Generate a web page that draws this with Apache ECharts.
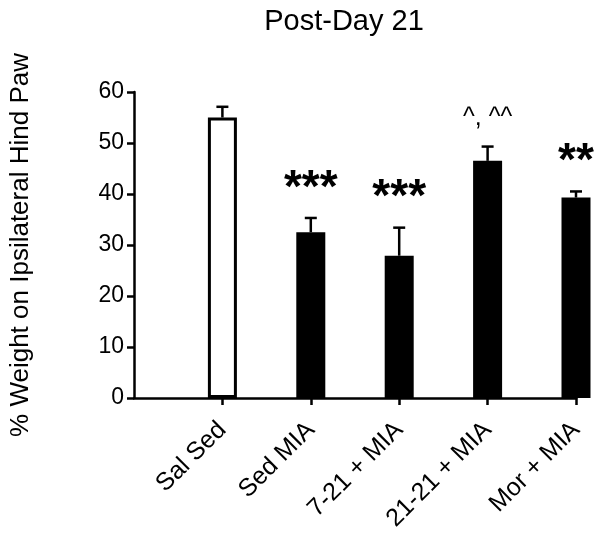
<!DOCTYPE html>
<html>
<head>
<meta charset="utf-8">
<script src="https://cdn.jsdelivr.net/npm/echarts@6/dist/echarts.min.js"></script>
<style>html,body{margin:0;padding:0;background:#fff}#c{width:604px;height:541px}</style>
</head>
<body>
<div id="c"></div>
<script>
// ---- data ----
const groups = ['Sal Sed', 'Sed MIA', '7-21 + MIA', '21-21 + MIA', 'Mor + MIA'];
const means = [55.0, 32.5, 27.9, 46.5, 39.3];
const sems = [2.1, 2.8, 5.5, 2.8, 1.2];
const marks = ['', '***', '***', '^, ^^', '**'];
const yTicks = [0, 10, 20, 30, 40, 50, 60];

const FONT = '"Liberation Sans", Arial, sans-serif';
const categories = [''].concat(groups);
const fills = ['#ffffff', '#000000', '#000000', '#000000', '#000000'];

const chart = echarts.init(document.getElementById('c'));
chart.setOption({
  animation: false,
  backgroundColor: '#fff',
  title: {
    text: 'Post-Day 21',
    left: 339, top: 2, textAlign: 'center',
    textStyle: { fontFamily: FONT, fontSize: 29, fontWeight: 'normal', color: '#000' }
  },
  grid: { left: 132, right: 28, top: 92, bottom: 143, containLabel: false },
  xAxis: {
    type: 'category', data: categories, boundaryGap: false,
    axisLine: { lineStyle: { color: '#000', width: 2.5 } },
    axisTick: { length: 7, lineStyle: { color: '#000', width: 2.5 }, interval: (i) => i > 0, alignWithLabel: true },
    axisLabel: { interval: 0, rotate: 45, margin: 28, fontFamily: FONT, fontSize: 25, color: '#000' },
    splitLine: { show: false }
  },
  yAxis: {
    type: 'value', min: yTicks[0], max: yTicks[yTicks.length - 1], interval: 10,
    name: '% Weight on Ipsilateral Hind Paw', nameLocation: 'middle', nameGap: 100,
    nameTextStyle: { fontFamily: FONT, fontSize: 26, color: '#000' },
    axisLine: { show: true, lineStyle: { color: '#000', width: 2.5 } },
    axisTick: { show: true, length: 7, lineStyle: { color: '#000', width: 2.5 } },
    axisLabel: { margin: 10, fontFamily: FONT, fontSize: 23, color: '#000' },
    splitLine: { show: false }
  },
  series: [
    {
      type: 'bar', barWidth: 29, clip: false,
      data: [null].concat(means.map((v, i) => ({ value: v, itemStyle: { color: fills[i], borderColor: '#000', borderWidth: 3 } })))
    },
    {
      type: 'custom', clip: false, z: 5,
      data: means.map((m, i) => [i + 1, m, sems[i]]),
      renderItem: function (params, api) {
        const x = api.value(0), m = api.value(1), s = api.value(2);
        const p0 = api.coord([x, m]);
        const p1 = api.coord([x, m + s]);
        const mk = marks[params.dataIndex];
        const children = [
          { type: 'line', shape: { x1: p0[0], y1: p0[1], x2: p1[0], y2: p1[1] }, style: { stroke: '#000', lineWidth: 2.5 } },
          { type: 'line', shape: { x1: p1[0] - 6, y1: p1[1], x2: p1[0] + 6, y2: p1[1] }, style: { stroke: '#000', lineWidth: 2.5 } }
        ];
        if (mk) {
          const isStar = mk.indexOf('*') >= 0;
          children.push({
            type: 'text',
            x: p1[0], y: p1[1] - (isStar ? 6 : 16),
            style: {
              text: mk, fill: '#000', align: 'center', verticalAlign: 'bottom',
              font: (isStar ? 'bold 46px ' : '25px ') + FONT
            }
          });
        }
        return { type: 'group', children: children };
      }
    }
  ]
});
</script>
</body>
</html>
